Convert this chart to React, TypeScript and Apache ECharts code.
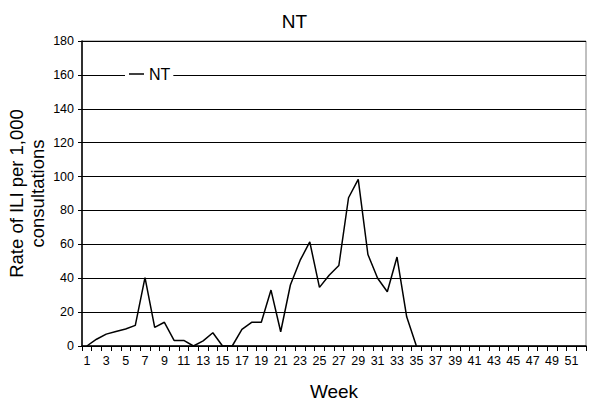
import React, { useEffect, useRef } from "react";
import * as echarts from "echarts";

const weeks: string[] = Array.from({ length: 52 }, (_, i) => String(i + 1));
const ntValues: (number | null)[] = [
  0, 4, 7, 8.6, 10, 12.2, 40.4, 11, 14, 3.3,
  3.3, 0, 3, 7.8, 0, 0, 9.8, 14, 14, 33,
  8.4, 36, 50.5, 61.4, 34.6, 41.8, 47.5, 87.5, 98.3, 54,
  40, 32, 52.5, 17.2, 0,
  null, null, null, null, null, null, null, null, null, null,
  null, null, null, null, null, null, null,
];
const yTicks = { min: 0, max: 180, interval: 20 };
const titleText = "NT";
const seriesName = "NT";
const xName = "Week";
const yName = "Rate of ILI per 1,000\nconsultations";

export default function App() {
  const ref = useRef<HTMLDivElement>(null);
  useEffect(() => {
    if (!ref.current) return;
    const chart = echarts.init(ref.current, null, { renderer: "svg" });
    const font = "Arial, 'Liberation Sans', sans-serif";
    chart.setOption({
      animation: false,
      backgroundColor: "#ffffff",
      textStyle: { fontFamily: font, color: "#000" },
      title: {
        text: titleText,
        left: "center",
        top: 12,
        padding: 0,
        textStyle: { fontFamily: font, fontSize: 19, fontWeight: "normal", color: "#000" },
      },
      legend: {
        data: [seriesName],
        left: 125,
        top: 64,
        padding: [2, 3, 2, 4],
        backgroundColor: "#ffffff",
        icon: "rect",
        itemWidth: 15,
        itemHeight: 1.5,
        itemGap: 5,
        itemStyle: { color: "#000" },
        textStyle: { fontFamily: font, fontSize: 16, color: "#000" },
      },
      grid: {
        left: 82,
        right: 3,
        top: 41,
        bottom: 56,
        show: true,
        borderColor: "#808080",
        borderWidth: 1,
        backgroundColor: "transparent",
        containLabel: false,
        outerBoundsMode: "none",
      },
      xAxis: {
        type: "category",
        data: weeks,
        boundaryGap: true,
        name: xName,
        nameLocation: "middle",
        nameGap: 36,
        nameMoveOverlap: false,
        nameTextStyle: { fontFamily: font, fontSize: 19, color: "#000" },
        axisLine: { lineStyle: { color: "#000", width: 1.5 } },
        axisTick: { show: true, interval: 0, length: 5, lineStyle: { color: "#000" } },
        axisLabel: { interval: 1, fontFamily: font, fontSize: 12.5, color: "#000", margin: 8 },
        splitLine: { show: false },
      },
      yAxis: {
        type: "value",
        min: yTicks.min,
        max: yTicks.max,
        interval: yTicks.interval,
        name: yName,
        nameLocation: "middle",
        nameRotate: 90,
        nameGap: 34,
        nameMoveOverlap: false,
        nameTextStyle: { fontFamily: font, fontSize: 18.5, color: "#000", lineHeight: 21 },
        axisLine: { show: true, lineStyle: { color: "#000", width: 1.5 } },
        axisTick: { show: true, length: 4, lineStyle: { color: "#000" } },
        axisLabel: { fontFamily: font, fontSize: 12.5, color: "#000", margin: 8 },
        splitLine: { show: true, lineStyle: { color: "#000", width: 1 } },
      },
      series: [
        {
          name: seriesName,
          type: "line",
          data: ntValues,
          symbol: "none",
          connectNulls: false,
          lineStyle: { color: "#000", width: 1.5 },
          itemStyle: { color: "#000" },
        },
      ],
    });
    return () => chart.dispose();
  }, []);
  return (
    <div
      ref={ref}
      style={{ position: "fixed", left: 0, top: 0, width: 589, height: 402 }}
    />
  );
}
